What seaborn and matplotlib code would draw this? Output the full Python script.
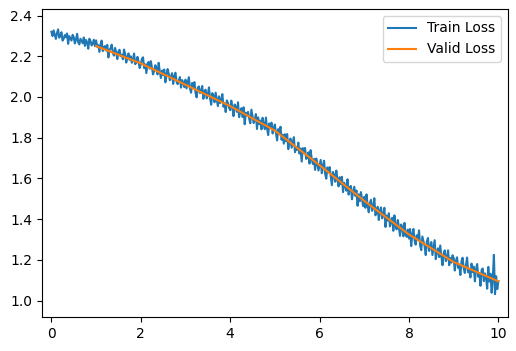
import numpy as np
import pandas as pd
import matplotlib
matplotlib.use("Agg")
import matplotlib.pyplot as plt
import seaborn as sns

train_loss = [
    # epoch 0-1
    2.320, 2.299, 2.327, 2.306, 2.285, 2.314, 2.332, 2.291, 2.300, 2.318,
    2.277, 2.286, 2.304, 2.293, 2.312, 2.261, 2.299, 2.288, 2.277, 2.305,
    2.294, 2.263, 2.281, 2.310, 2.269, 2.258, 2.286, 2.275, 2.264, 2.292,
    2.251, 2.280, 2.268, 2.237, 2.286, 2.275, 2.253, 2.262, 2.281, 2.249,
    # epoch 1-2
    2.278, 2.246, 2.254, 2.221, 2.259, 2.277, 2.225, 2.243, 2.250, 2.228,
    2.256, 2.194, 2.232, 2.239, 2.257, 2.215, 2.203, 2.241, 2.218, 2.186,
    2.224, 2.232, 2.200, 2.207, 2.185, 2.233, 2.211, 2.169, 2.196, 2.214,
    2.182, 2.200, 2.168, 2.185, 2.213, 2.161, 2.169, 2.197, 2.174, 2.142,
    # epoch 2-3
    2.160, 2.187, 2.195, 2.142, 2.160, 2.117, 2.164, 2.172, 2.139, 2.176,
    2.144, 2.111, 2.129, 2.156, 2.143, 2.111, 2.168, 2.125, 2.093, 2.130,
    2.108, 2.135, 2.072, 2.110, 2.137, 2.114, 2.082, 2.099, 2.117, 2.064,
    2.101, 2.119, 2.076, 2.063, 2.081, 2.098, 2.046, 2.083, 2.070, 2.048,
    # epoch 3-4
    2.085, 2.042, 2.070, 2.097, 2.044, 2.021, 2.069, 2.046, 2.073, 2.020,
    1.998, 2.045, 2.052, 2.019, 2.027, 2.054, 1.991, 2.028, 2.036, 1.993,
    2.010, 2.047, 1.995, 1.962, 2.019, 2.006, 1.974, 2.021, 1.988, 1.955,
    2.003, 1.970, 1.987, 2.014, 1.952, 1.969, 1.926, 1.983, 1.971, 1.948,
    # epoch 4-5
    1.935, 1.982, 1.949, 1.906, 1.963, 1.950, 1.927, 1.974, 1.901, 1.928,
    1.945, 1.902, 1.949, 1.866, 1.923, 1.910, 1.927, 1.894, 1.871, 1.938,
    1.905, 1.872, 1.889, 1.916, 1.843, 1.900, 1.867, 1.884, 1.841, 1.898,
    1.865, 1.842, 1.899, 1.846, 1.813, 1.870, 1.847, 1.874, 1.821, 1.848,
    # epoch 5-6
    1.865, 1.821, 1.787, 1.842, 1.818, 1.854, 1.790, 1.815, 1.771, 1.817,
    1.783, 1.818, 1.744, 1.780, 1.796, 1.751, 1.777, 1.803, 1.729, 1.754,
    1.740, 1.776, 1.722, 1.747, 1.683, 1.749, 1.725, 1.750, 1.696, 1.702,
    1.728, 1.673, 1.739, 1.695, 1.671, 1.696, 1.642, 1.698, 1.674, 1.639,
    # epoch 6-7
    1.665, 1.691, 1.626, 1.662, 1.687, 1.623, 1.599, 1.654, 1.630, 1.656,
    1.611, 1.567, 1.632, 1.618, 1.584, 1.639, 1.595, 1.561, 1.606, 1.572,
    1.608, 1.533, 1.579, 1.564, 1.540, 1.596, 1.521, 1.557, 1.563, 1.498,
    1.534, 1.559, 1.515, 1.541, 1.466, 1.522, 1.488, 1.533, 1.499, 1.464,
    # epoch 7-8
    1.510, 1.456, 1.522, 1.468, 1.434, 1.479, 1.495, 1.441, 1.457, 1.503,
    1.419, 1.435, 1.461, 1.396, 1.442, 1.458, 1.404, 1.420, 1.456, 1.362,
    1.418, 1.393, 1.429, 1.365, 1.391, 1.407, 1.343, 1.419, 1.365, 1.350,
    1.396, 1.362, 1.318, 1.374, 1.360, 1.316, 1.382, 1.327, 1.313, 1.349,
    # epoch 8-9
    1.305, 1.352, 1.268, 1.325, 1.352, 1.298, 1.275, 1.321, 1.298, 1.345,
    1.271, 1.248, 1.315, 1.291, 1.268, 1.224, 1.291, 1.308, 1.244, 1.261,
    1.288, 1.224, 1.261, 1.297, 1.204, 1.241, 1.257, 1.214, 1.271, 1.217,
    1.174, 1.230, 1.247, 1.194, 1.210, 1.247, 1.174, 1.210, 1.187, 1.223,
    # epoch 9-10
    1.210, 1.148, 1.195, 1.213, 1.161, 1.178, 1.126, 1.193, 1.211, 1.159,
    1.136, 1.174, 1.212, 1.139, 1.157, 1.114, 1.182, 1.140, 1.167, 1.095,
    1.153, 1.180, 1.118, 1.135, 1.073, 1.151, 1.158, 1.096, 1.134, 1.111,
    1.059, 1.166, 1.094, 1.132, 1.039, 1.107, 1.225, 1.032, 1.120, 1.057,
    1.095,
]
train_epochs = np.linspace(0, 10, len(train_loss))

valid_epochs = [1, 2, 3, 4, 5, 6, 7, 8, 9, 10]
valid_loss = [2.25, 2.165, 2.06, 1.955, 1.835, 1.665, 1.49, 1.325, 1.19, 1.095]

train_df = pd.DataFrame({"epoch": train_epochs, "loss": train_loss})
valid_df = pd.DataFrame({"epoch": valid_epochs, "loss": valid_loss})

fig = plt.figure(figsize=(5.16, 3.51), dpi=100)
ax = fig.add_axes([0.0814, 0.0969, 0.9026, 0.8775])

sns.lineplot(data=train_df, x="epoch", y="loss", ax=ax, color="#1f77b4",
             linewidth=1.5, label="Train Loss")
sns.lineplot(data=valid_df, x="epoch", y="loss", ax=ax, color="#ff7f0e",
             linewidth=1.5, label="Valid Loss")

ax.set_xlim(-0.21, 10.21)
ax.set_ylim(0.92, 2.432)
ax.set_xlabel("")
ax.set_ylabel("")
ax.set_xticks([0, 2, 4, 6, 8, 10])
ax.set_yticks([1.0, 1.2, 1.4, 1.6, 1.8, 2.0, 2.2, 2.4])
ax.legend(loc="upper right")

fig.savefig("out.png", dpi=100)
